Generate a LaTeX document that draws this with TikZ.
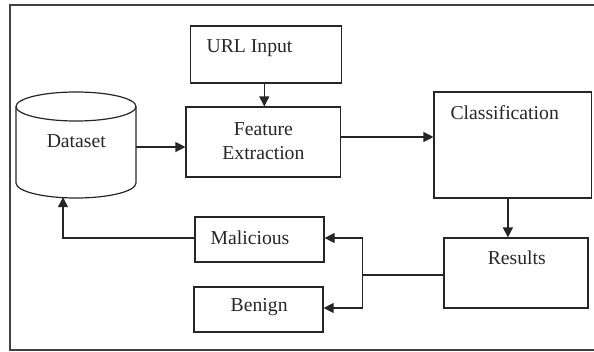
\documentclass[tikz,border=0pt]{standalone}
\usepackage{fontspec}
\setmainfont{Liberation Serif}
\usetikzlibrary{arrows.meta,calc}
\begin{document}
\begin{tikzpicture}[x=1pt,y=-1pt,
  ink/.style={black!85},
  box/.style={draw=black!85, line width=1.2pt, inner sep=0pt, fill=none},
  lbl/.style={inner sep=0pt, text=black!85, font=\fontsize{19.7}{24}\selectfont, align=center},
  flow/.style={draw=black!85, line width=1.2pt, -{Triangle[length=10pt,width=10pt]}},
  link/.style={draw=black!85, line width=1.2pt}]
\useasboundingbox (0,0) rectangle (594,351);

% outer frame (open on the right)
\draw[black!75, line width=1.3pt] (594,5) -- (10,5) -- (10,350) -- (594,350);

% dataset cylinder
\draw[ink, line width=1.2pt] (76,106.5) ellipse [x radius=60, y radius=14.5];
\draw[ink, line width=1.2pt] (16,106.5) -- (16,183) arc [start angle=180, end angle=0, x radius=60, y radius=15] -- (136,106.5);
\node[inner sep=0pt, minimum width=120pt, minimum height=106pt] (dataset) at (76,145) {};
\node[lbl] (datasettext) at (76.3,141) {Dataset};

% process boxes
\node[box, minimum width=151pt, minimum height=57pt] (url) at (266.3,54.5) {};
\node[lbl] (urltext) at (249.5,48) {URL Input};

\node[box, minimum width=154.7pt, minimum height=70pt] (feature) at (263.4,142) {};
\node[lbl] (featuretext) at (263.4,141) {Feature\\Extraction};

\node[box, minimum width=157.7pt, minimum height=106pt] (class) at (512.9,145) {};
\node[lbl] (classtext) at (504.7,112.5) {Classification};

\node[box, minimum width=144pt, minimum height=70pt] (results) at (516,273) {};
\node[lbl] (resultstext) at (516.8,257.5) {Results};

\node[box, minimum width=129pt, minimum height=45pt] (malicious) at (259.5,239.5) {};
\node[lbl] (malicioustext) at (250,237.5) {Malicious};

\node[box, minimum width=129pt, minimum height=45pt] (benign) at (258.5,309.5) {};
\node[lbl] (benigntext) at (259.2,307.5) {Benign};

% connectors
\draw[flow] ([xshift=-2pt]url.south) -- ([xshift=-2pt]url.south |- feature.north);
\draw[flow] ([yshift=-2pt]dataset.east) -- ([yshift=-2pt]dataset.east -| feature.west);
\draw[flow] ([yshift=5pt]feature.east) -- ([yshift=5pt]feature.east -| class.west);
\draw[flow] ([xshift=-5pt]class.south) -- ([xshift=-5pt]class.south |- results.north);

\coordinate (split) at ([xshift=-81pt,yshift=-2pt]results.west);
\draw[link] ([yshift=-2pt]results.west) -- (split);
\draw[flow] (split) |- ([yshift=1.5pt]malicious.east);
\draw[flow] (split) |- ([yshift=1.5pt]benign.east);

\coordinate (dsin) at ([xshift=-13pt,yshift=1pt]dataset.south);
\draw[flow] ([yshift=1.5pt]malicious.west) -| (dsin);
\end{tikzpicture}
\end{document}
